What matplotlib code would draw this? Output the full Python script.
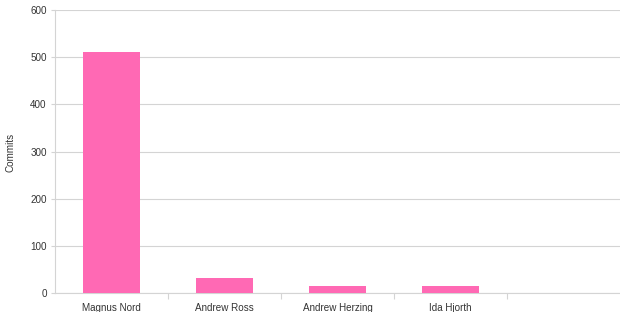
import matplotlib
matplotlib.use("Agg")
import matplotlib.pyplot as plt
import numpy as np

categories = ["Magnus Nord", "Andrew Ross", "Andrew Herzing", "Ida Hjorth", ""]
commits = [510, 32, 14, 14, 0]
yticks = [0, 100, 200, 300, 400, 500, 600]

plt.rcParams['font.family'] = ['Liberation Sans', 'DejaVu Sans']

fig = plt.figure(figsize=(6.2, 3.12), dpi=100)
ax = fig.add_axes([55/620, 1-293/312, 565/620, 283/312])

x = np.arange(len(categories))
ax.bar(x[:4], commits[:4], width=0.5, color='#ff69b4', zorder=3)

fs = 7.1
tc = '#333333'
gc = '#d4d4d4'
ax.set_xlim(-0.5, len(categories)-0.5)
ax.set_ylim(0, 600)
ax.set_yticks(yticks)
ax.set_yticklabels([str(v) for v in yticks], fontsize=fs, color=tc)
ax.set_xticks(x)
ax.set_xticklabels(categories, fontsize=fs, color=tc)
ax.tick_params(axis='x', which='major', length=0, pad=7)
ax.set_xticks(np.arange(0.5, len(categories)-1, 1.0), minor=True)
ax.tick_params(axis='x', which='minor', length=4, color=gc, width=0.8)
ax.tick_params(axis='y', length=3, color=gc, width=0.8, pad=3)

ax.grid(axis='y', color=gc, linewidth=0.8, zorder=0)
for s in ['top', 'right']:
    ax.spines[s].set_visible(False)
for s in ['left', 'bottom']:
    ax.spines[s].set_color(gc)
    ax.spines[s].set_linewidth(0.8)

fig.text(11/620, 1-152/312, "Commits", rotation=90, fontsize=fs, color=tc,
         ha='center', va='center')

fig.savefig("out.png", dpi=100)
